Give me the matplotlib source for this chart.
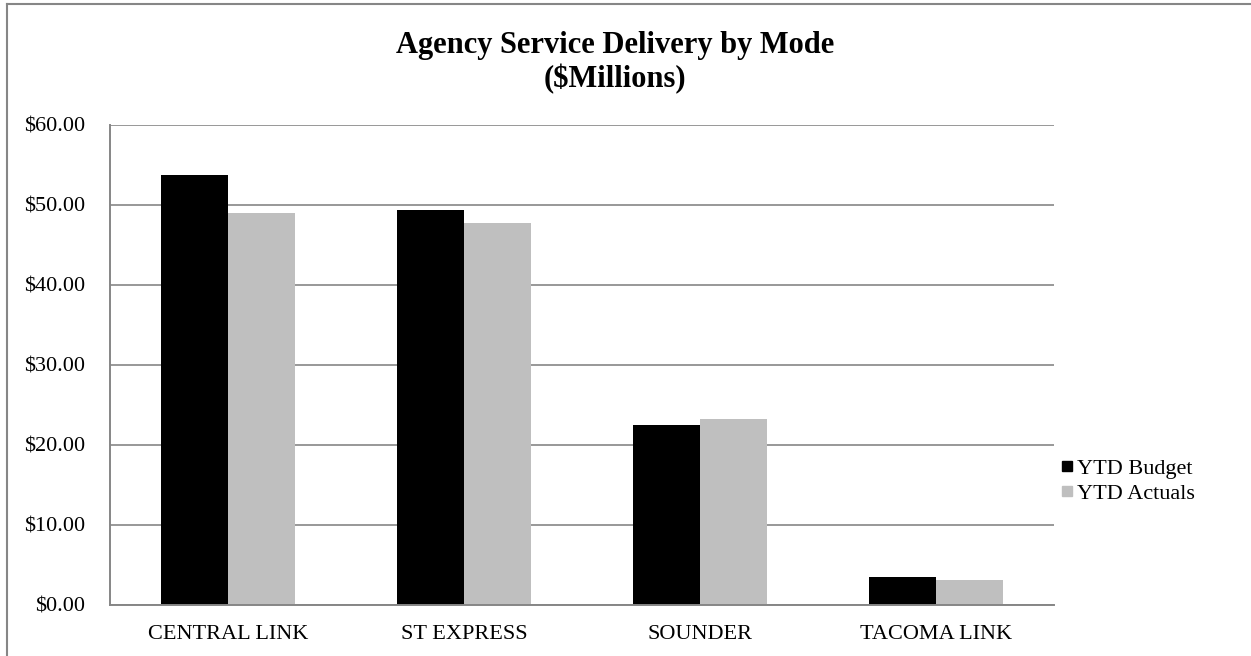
import matplotlib
matplotlib.use("Agg")
import matplotlib.pyplot as plt
from matplotlib.lines import Line2D
from matplotlib.ticker import FuncFormatter
import numpy as np

categories = ["CENTRAL LINK", "ST EXPRESS", "SOUNDER", "TACOMA LINK"]
ytd_budget = [53.7, 49.3, 22.4, 3.45]
ytd_actuals = [49.0, 47.7, 23.15, 3.05]
series_names = ["YTD Budget", "YTD Actuals"]
series_colors = ["#000000", "#BFBFBF"]
title = "Agency Service Delivery by Mode\n($Millions)"

plt.rcParams['font.family'] = ['Liberation Serif', 'DejaVu Serif']

W, H = 1251, 656
fig = plt.figure(figsize=(W / 100, H / 100), dpi=100)
fig.patch.set_facecolor("white")

ax = fig.add_axes([110 / W, (H - 604.5) / H, 944 / W, 480 / H])
x = np.arange(len(categories))
bw = 0.284
ax.bar(x - bw / 2, ytd_budget, bw, color=series_colors[0], edgecolor="none", zorder=3)
ax.bar(x + bw / 2, ytd_actuals, bw, color=series_colors[1], edgecolor="none", zorder=3)

ax.set_xlim(-0.5, len(categories) - 0.5)
ax.set_ylim(0, 60)
ax.set_yticks(np.arange(0, 61, 10))
ax.yaxis.set_major_formatter(FuncFormatter(lambda v, p: f"${v:.2f}"))
ax.set_xticks(x)
ax.set_xticklabels(categories)
ax.tick_params(axis="both", length=0, labelsize=16, colors="black")
ax.tick_params(axis="y", pad=18)
ax.tick_params(axis="x", pad=15)
ax.grid(axis="y", color="#868686", linewidth=1.2, zorder=0)
for s in ["top", "right"]:
    ax.spines[s].set_visible(False)
for s in ["left", "bottom"]:
    ax.spines[s].set_color("#868686")
    ax.spines[s].set_linewidth(1.4)
    ax.spines[s].set_zorder(4)

fig.text(615 / W, 1 - 62.5 / H, title, ha="center", va="center", fontsize=22,
         fontweight="bold", linespacing=1.18)

handles = [Line2D([], [], marker="s", linestyle="none", markersize=7.5,
                  markerfacecolor=c, markeredgecolor=c) for c in series_colors]
fig.legend(handles, series_names, loc="center left",
           bbox_to_anchor=(1051 / W, 1 - 481 / H), frameon=False,
           fontsize=16, handlelength=0.6, handletextpad=0.15,
           labelspacing=0.22, borderaxespad=0)

# chart border (top and left visible)
fig.add_artist(Line2D([7 / W, 7 / W], [0, 1 - 4 / H], transform=fig.transFigure,
                      color="#868686", linewidth=1.5))
fig.add_artist(Line2D([7 / W, 1], [1 - 4 / H, 1 - 4 / H], transform=fig.transFigure,
                      color="#868686", linewidth=1.5))

fig.savefig("out.png", dpi=100)
